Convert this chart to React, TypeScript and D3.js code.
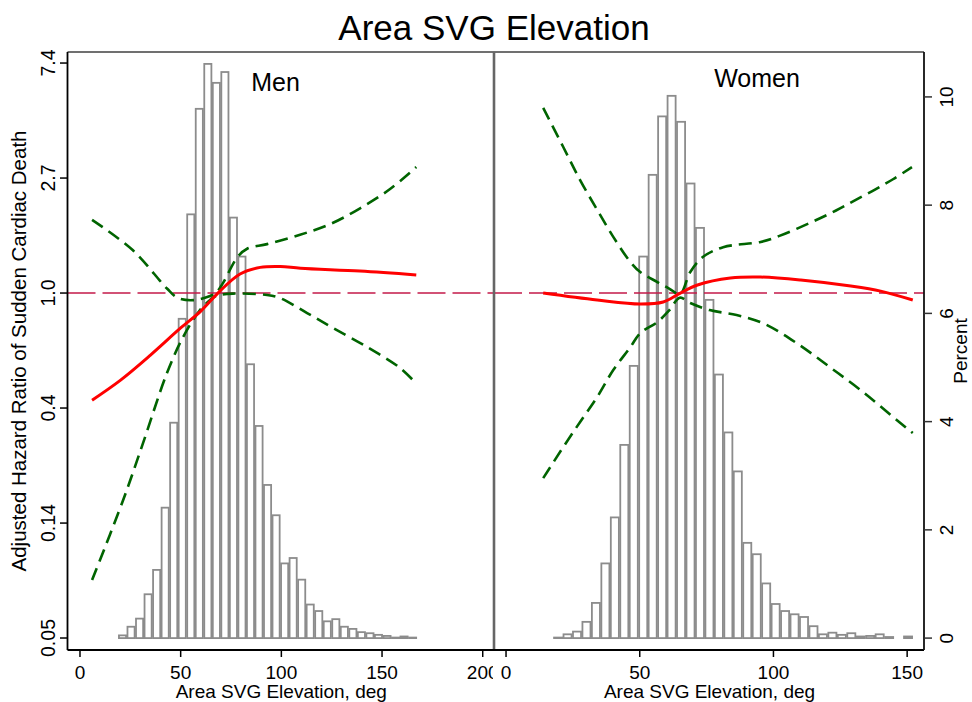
import * as d3 from "d3"

// histogram of elevation (percent of subjects per bin)
const menBinStart = 19.0
const menBinWidth = 4.237
const menPercent = [
  0.05, 0.21, 0.36, 0.81, 1.26, 2.41, 3.98, 5.9, 7.83, 9.78, 10.61, 10.26,
  10.46, 7.77, 7.05, 5.06, 3.92, 2.83, 2.27, 1.38, 1.48, 1.08, 0.62, 0.5, 0.31,
  0.35, 0.21, 0.17, 0.11, 0.09, 0.06, 0.04, 0.01, 0.03, 0.01,
]

const womenBinStart = 17.7
const womenBinWidth = 3.537
const womenPercent = [
  0.01, 0.07, 0.12, 0.3, 0.65, 1.38, 2.23, 3.57, 5.03, 7.05, 8.56, 9.64, 10.02,
  9.54, 8.4, 7.58, 6.25, 4.87, 3.8, 3.08, 1.76, 1.55, 1.01, 0.63, 0.5, 0.44,
  0.39, 0.22, 0.07, 0.1, 0.06, 0.09, 0.03, 0.04, 0.07, 0.02, 0, 0.03,
]

// hazard ratio estimate and 95% CI
const menElev = [6, 20, 35, 50, 60, 68.5, 79.5, 89.5, 99.5, 109.5, 139, 167]
const menHR = [0.394, 0.468, 0.583, 0.738, 0.855, 1.0, 1.18, 1.25, 1.26, 1.24, 1.21, 1.17]
const menUpperElev = [6, 26.3, 43.2, 48.7, 57.1, 64.6, 67.5, 71, 78, 83, 92.9, 109.3, 124.2, 139.1, 154, 167]
const menUpperHR = [1.89, 1.45, 1.04, 0.957, 0.941, 0.975, 1.0, 1.09, 1.36, 1.47, 1.53, 1.66, 1.82, 2.09, 2.47, 2.99]
const menLowerElev = [6, 21.4, 31.3, 43.2, 51.2, 59.6, 64.6, 67.5, 76, 92.9, 99.4, 112.8, 125.7, 142.6, 159, 167]
const menLowerHR = [0.0824, 0.165, 0.271, 0.499, 0.682, 0.862, 0.941, 0.975, 0.995, 0.983, 0.957, 0.84, 0.738, 0.625, 0.521, 0.455]

const womenElev = [13.9, 34.1, 50.2, 58.8, 65.2, 71.6, 83.9, 95.2, 110.2, 128.9, 140.1, 152.1]
const womenHR = [1.0, 0.941, 0.909, 0.925, 1.0, 1.072, 1.139, 1.149, 1.12, 1.063, 1.017, 0.941]
const womenUpperElev = [13.9, 21.4, 27.7, 34.1, 40.1, 46.5, 50.2, 56.6, 61, 65, 68.9, 73.7, 81.2, 95.2, 102, 113.6, 123.4, 130.8, 138.3, 144.7, 151.8]
const womenUpperHR = [5.0, 3.56, 2.67, 2.06, 1.63, 1.31, 1.2, 1.1, 1.04, 0.99, 1.2, 1.37, 1.49, 1.56, 1.64, 1.84, 2.05, 2.25, 2.47, 2.69, 2.99]
const womenLowerElev = [13.9, 21.4, 27.7, 34.1, 40.1, 46.5, 50.2, 56.6, 61.1, 65, 68.9, 76.1, 86.2, 96, 108.7, 121.1, 133.5, 146.2, 152.1]
const womenLowerHR = [0.2, 0.262, 0.326, 0.405, 0.512, 0.625, 0.706, 0.777, 0.862, 0.96, 0.917, 0.862, 0.826, 0.77, 0.647, 0.525, 0.423, 0.331, 0.296]

// axes
const hrTickValues = [0.0498, 0.1353, 0.3679, 1, 2.718, 7.389]
const hrTickLabels = ["0.05", "0.14", "0.4", "1.0", "2.7", "7.4"]
const percentTicks = [0, 2, 4, 6, 8, 10]
const menXTicks = [0, 50, 100, 150, 200]
const womenXTicks = [0, 50, 100, 150]

const FONT = "'Liberation Sans', Arial, sans-serif"
const GREEN = "#006400"
const RED = "#ff0000"
const REF = "#c41a4a"
const BAR = "#8c8c8c"

const top = 52
const bottom = 650
const left = 67.5
const mid = 494
const right = 924

const yHR = d3
  .scaleLog()
  .domain([Math.exp(-3.104), Math.exp(2.096)])
  .range([bottom, top])
const yPct = d3.scaleLinear().domain([-0.22, 10.83]).range([bottom, top])

type PanelProps = {
  x: d3.ScaleLinear<number, number>
  binStart: number
  binWidth: number
  percent: number[]
  elev: number[]
  hr: number[]
  upElev: number[]
  upHR: number[]
  loElev: number[]
  loHR: number[]
  ticks: number[]
  label: string
  labelX: number
  labelY: number
  clipId: string
}

function Panel(p: PanelProps) {
  const [x0, x1] = p.x.range()
  const line = d3
    .line<[number, number]>()
    .x((d) => p.x(d[0]))
    .y((d) => yHR(d[1]))
    .curve(d3.curveCatmullRom.alpha(0.5))
  const est = line(d3.zip(p.elev, p.hr) as [number, number][]) ?? undefined
  const up = line(d3.zip(p.upElev, p.upHR) as [number, number][]) ?? undefined
  const lo = line(d3.zip(p.loElev, p.loHR) as [number, number][]) ?? undefined

  return (
    <g>
      <clipPath id={p.clipId}>
        <rect x={x0} y={0} width={x1 - x0 - 1} height={702} />
      </clipPath>
      <g fill="#fff" stroke={BAR} strokeWidth={1.8}>
        {p.percent.map((v, i) =>
          v > 0 ? (
            <rect
              key={i}
              x={p.x(p.binStart + i * p.binWidth) + 0.7}
              y={yPct(v)}
              width={p.x(p.binStart + p.binWidth) - p.x(p.binStart) - 1.4}
              height={yPct(0) - yPct(v)}
            />
          ) : null
        )}
      </g>
      <line
        x1={x0}
        x2={x1}
        y1={yHR(1)}
        y2={yHR(1)}
        stroke={REF}
        strokeWidth={1.6}
        strokeDasharray="28 7"
      />
      <g fill="none" stroke={GREEN} strokeWidth={2.6} strokeDasharray="13 7">
        <path d={up} />
        <path d={lo} />
      </g>
      <path d={est} fill="none" stroke={RED} strokeWidth={3} />
      <g clipPath={`url(#${p.clipId})`} fontFamily={FONT} fontSize={19}>
        {p.ticks.map((t) => (
          <g key={t}>
            <line x1={p.x(t)} x2={p.x(t)} y1={bottom} y2={bottom + 7} stroke="#000" strokeWidth={1.5} />
            <text x={p.x(t)} y={679} textAnchor="middle">
              {t}
            </text>
          </g>
        ))}
      </g>
      <text x={(x0 + x1) / 2 + 0.5} y={698} textAnchor="middle" fontFamily={FONT} fontSize={19}>
        Area SVG Elevation, deg
      </text>
      <text x={p.labelX} y={p.labelY} textAnchor="middle" fontFamily={FONT} fontSize={25}>
        {p.label}
      </text>
    </g>
  )
}

export default function App() {
  const xMen = d3.scaleLinear().domain([-6.2, 205.6]).range([left, mid])
  const xWomen = d3.scaleLinear().domain([-4.5, 156.3]).range([mid, right])

  return (
    <svg
      width={972}
      height={702}
      style={{ position: "absolute", left: 0, top: 0, background: "#fff" }}
    >
      <rect width={972} height={702} fill="#fff" />
      <text x={494} y={40} textAnchor="middle" fontFamily={FONT} fontSize={35}>
        Area SVG Elevation
      </text>

      <Panel
        x={xMen}
        binStart={menBinStart}
        binWidth={menBinWidth}
        percent={menPercent}
        elev={menElev}
        hr={menHR}
        upElev={menUpperElev}
        upHR={menUpperHR}
        loElev={menLowerElev}
        loHR={menLowerHR}
        ticks={menXTicks}
        label="Men"
        labelX={275.5}
        labelY={91}
        clipId="clipMen"
      />
      <Panel
        x={xWomen}
        binStart={womenBinStart}
        binWidth={womenBinWidth}
        percent={womenPercent}
        elev={womenElev}
        hr={womenHR}
        upElev={womenUpperElev}
        upHR={womenUpperHR}
        loElev={womenLowerElev}
        loHR={womenLowerHR}
        ticks={womenXTicks}
        label="Women"
        labelX={757}
        labelY={87}
        clipId="clipWomen"
      />

      {/* frame */}
      <line x1={left} x2={right} y1={top} y2={top} stroke="#707070" strokeWidth={1.8} />
      <line x1={mid} x2={mid} y1={top} y2={bottom} stroke="#666" strokeWidth={2.6} />
      <line x1={left} x2={right} y1={bottom} y2={bottom} stroke="#000" strokeWidth={1.8} />
      <line x1={left} x2={left} y1={top} y2={bottom} stroke="#000" strokeWidth={1.8} />
      <line x1={right} x2={right} y1={top} y2={bottom} stroke="#111" strokeWidth={1.8} />

      {/* left HR axis */}
      <g fontFamily={FONT} fontSize={19.5}>
        {hrTickValues.map((t, i) => (
          <g key={t}>
            <line x1={left - 7.5} x2={left} y1={yHR(t)} y2={yHR(t)} stroke="#000" strokeWidth={1.5} />
            <text transform={`translate(55,${yHR(t)}) rotate(-90)`} textAnchor="middle">
              {hrTickLabels[i]}
            </text>
          </g>
        ))}
        <text
          transform={`translate(26,${(top + bottom) / 2}) rotate(-90)`}
          textAnchor="middle"
          fontSize={20.5}
        >
          Adjusted Hazard Ratio of Sudden Cardiac Death
        </text>
      </g>

      {/* right percent axis */}
      <g fontFamily={FONT} fontSize={19}>
        {percentTicks.map((t) => (
          <g key={t}>
            <line x1={right} x2={right + 8} y1={yPct(t)} y2={yPct(t)} stroke="#333" strokeWidth={1.5} />
            <text transform={`translate(953,${yPct(t)}) rotate(-90)`} textAnchor="middle">
              {t}
            </text>
          </g>
        ))}
        <text transform={`translate(967,${(top + bottom) / 2}) rotate(-90)`} textAnchor="middle">
          Percent
        </text>
      </g>
    </svg>
  )
}
